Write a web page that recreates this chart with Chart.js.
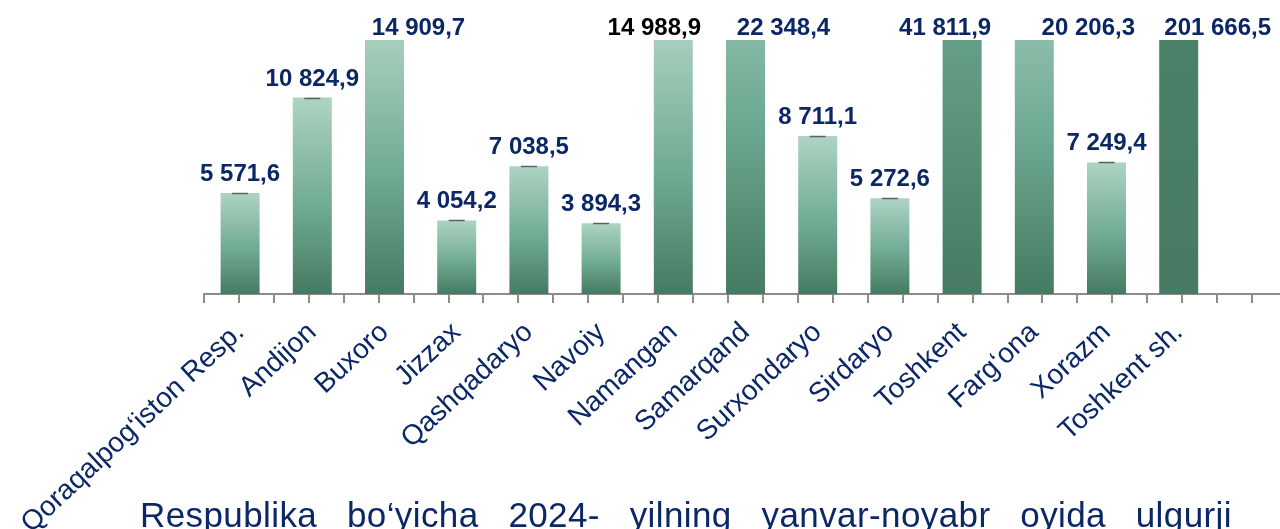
<!DOCTYPE html>
<html>
<head>
<meta charset="utf-8">
<script src="https://cdn.jsdelivr.net/npm/chart.js@4.4.1/dist/chart.umd.min.js"></script>
<style>
  html, body { margin: 0; padding: 0; background: #fff; overflow: hidden; }
  body { width: 1280px; height: 529px; position: relative; }
  #chart-box { position: absolute; left: 0; top: 0; width: 1310px; height: 529px; }
  #note {
    position: absolute; left: 140px; top: 497px; width: 1092px;
    display: flex; justify-content: space-between;
    font-family: "Liberation Sans", Arial, sans-serif;
    font-size: 35px; line-height: 35px; letter-spacing: 0.4px;
    color: #0c2766; white-space: nowrap;
  }
</style>
</head>
<body>
<div id="chart-box"><canvas id="myChart"></canvas></div>
<div id="note">
  <span>Respublika</span><span>bo‘yicha</span><span>2024-</span><span>yilning</span><span>yanvar-noyabr</span><span>oyida</span><span>ulgurji</span>
</div>
<script>
// regions (last slot left empty, the axis runs on past it)
const regions = [
    'Qoraqalpog‘iston Resp.', 'Andijon', 'Buxoro', 'Jizzax', 'Qashqadaryo', 'Navoiy',
    'Namangan', 'Samarqand', 'Surxondaryo', 'Sirdaryo', 'Toshkent', 'Farg‘ona',
    'Xorazm', 'Toshkent sh.', ''
];
// wholesale volume, bln. so'm
const volumes = [
    5571.6, 10824.9, 14909.7, 4054.2, 7038.5, 3894.3,
    14988.9, 22348.4, 8711.1, 5272.6, 41811.9, 20206.3,
    7249.4, 201666.5, null
];
const Y_MAX = 14000;

const NAVY = '#0c2766';
const FONT = '"Liberation Sans", Arial, sans-serif';

function formatUz(v) {
    const parts = v.toFixed(1).split('.');
    return parts[0].replace(/\B(?=(\d{3})+(?!\d))/g, ' ') + ',' + parts[1];
}

// each bar gets its own gradient, light on top, dark at the base
function barGradient(context) {
    const chart = context.chart;
    if (!chart.chartArea || context.raw == null) return '#70ab93';
    const y = chart.scales.y;
    const top = y.getPixelForValue(context.raw);
    const base = y.getPixelForValue(0);
    const g = chart.ctx.createLinearGradient(0, top, 0, base);
    g.addColorStop(0, '#aed3c3');
    g.addColorStop(0.55, '#70ab93');
    g.addColorStop(1, '#467a62');
    return g;
}

// value labels over bars + small cap line on bar tops
const valueLabels = {
    id: 'valueLabels',
    afterDatasetsDraw(chart, args, opts) {
        const {ctx, chartArea} = chart;
        const meta = chart.getDatasetMeta(0);
        ctx.save();
        meta.data.forEach((bar, i) => {
            const v = volumes[i];
            if (v == null) return;
            if (bar.y >= chartArea.top) {
                ctx.strokeStyle = '#5c605e';
                ctx.lineWidth = 1.5;
                ctx.beginPath();
                ctx.moveTo(bar.x - 8, Math.round(bar.y) + 0.5);
                ctx.lineTo(bar.x + 8, Math.round(bar.y) + 0.5);
                ctx.stroke();
            }
            const top = Math.max(bar.y, chartArea.top);
            ctx.font = 'bold 24px ' + FONT;
            ctx.textAlign = 'center';
            ctx.textBaseline = 'alphabetic';
            ctx.fillStyle = (opts.colors && opts.colors[i]) || NAVY;
            const dx = (opts.shift && opts.shift[i]) || 0;
            ctx.fillText(formatUz(v), bar.x + dx, Math.max(top - 12, 35));
        });
        ctx.restore();
    }
};

const ctx = document.getElementById('myChart').getContext('2d');

const myChart = new Chart(ctx, {
    type: 'bar',
    data: {
        labels: regions,
        datasets: [{
            data: volumes,
            xAxisID: 'x',
            yAxisID: 'y',
            backgroundColor: barGradient,
            borderWidth: 0,
            categoryPercentage: 1,
            barPercentage: 0.54
        }]
    },
    options: {
        responsive: true,
        maintainAspectRatio: false,
        animation: false,
        events: [],
        layout: { padding: { left: 204, right: 23, top: 40, bottom: 0 } },
        plugins: {
            legend: { display: false },
            tooltip: { enabled: false },
            valueLabels: {
                shift: { 2: 34, 6: -19, 7: 38, 10: -17, 11: 54, 13: 39 },
                colors: { 6: '#000000' }
            }
        },
        scales: {
            y: { display: false, min: 0, max: Y_MAX },
            x2: {
                type: 'linear',
                position: 'bottom',
                weight: 1,
                min: -0.5,
                max: regions.length - 0.5,
                ticks: { display: false, stepSize: 0.5 },
                grid: { drawOnChartArea: false, drawTicks: true, tickLength: 9, color: '#8c8c8c', lineWidth: 2 },
                border: { display: true, color: '#8c8c8c', width: 2 },
                afterFit: (s) => { s.height = 10; s.paddingLeft = 0; s.paddingRight = 0; }
            },
            x: {
                type: 'category',
                position: 'bottom',
                weight: 2,
                grid: { display: false, drawTicks: false },
                border: { display: false },
                ticks: {
                    autoSkip: false,
                    minRotation: 43,
                    maxRotation: 43,
                    padding: 12,
                    color: NAVY,
                    font: { family: FONT, size: 28 }
                },
                afterFit: (s) => { s.height = 225; s.paddingLeft = 0; s.paddingRight = 0; }
            }
        }
    },
    plugins: [valueLabels]
});
</script>
</body>
</html>
